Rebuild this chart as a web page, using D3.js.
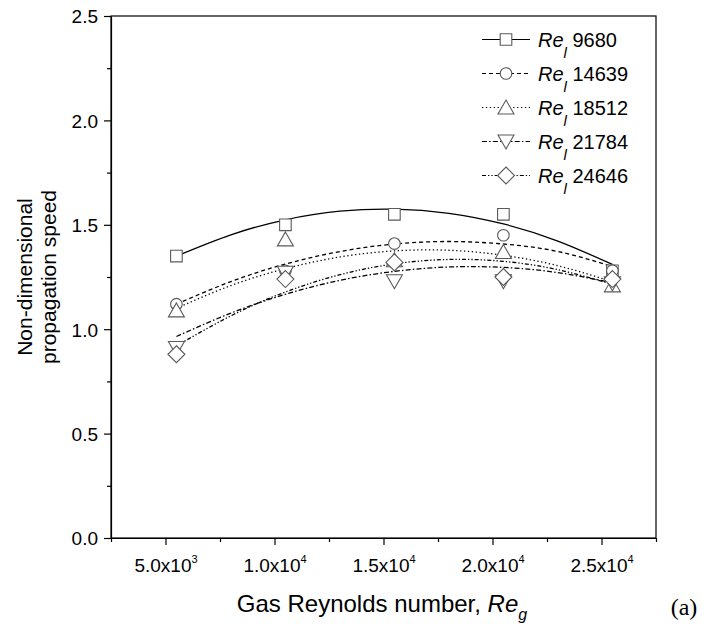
<!DOCTYPE html>
<html lang="en">
<head>
  <meta charset="UTF-8" />
  <title>Propagation speed vs gas Reynolds number</title>
  <style>
    body { margin: 0; background: #fff; }
    svg { display: block; font-family: 'Liberation Sans', Arial, sans-serif; }
    .axis path, .axis line { stroke: #000; stroke-width: 1.2px; }
    .axis text { fill: #000; }
    .fit { fill: none; stroke: #000; stroke-width: 1.3px; }
    .marker { fill: #fff; stroke: #5a5a5a; stroke-width: 1.1px; }
  </style>
</head>
<body>
  <svg width="717" height="626"></svg>

  <script src="https://d3js.org/d3.v7.min.js"></script>
  <script>
    // --- data
    const gasRe = [5500, 10500, 15500, 20500, 25500];
    const liquidRe = ["9680", "14639", "18512", "21784", "24646"];

    const speed9680  = [1.35, 1.50, 1.55, 1.55, 1.28];
    const speed14639 = [1.12, 1.28, 1.41, 1.45, 1.28];
    const speed18512 = [1.09, 1.43, 1.33, 1.37, 1.21];
    const speed21784 = [0.91, 1.27, 1.23, 1.23, 1.22];
    const speed24646 = [0.88, 1.24, 1.32, 1.25, 1.24];

    // fitted curves
    const fitRe = [5500, 8000, 10500, 13000, 15500, 18000, 20500, 23000, 25500];
    const fit9680  = [1.35, 1.452, 1.524, 1.565, 1.575, 1.555, 1.504, 1.422, 1.31];
    const fit14639 = [1.12, 1.228, 1.312, 1.372, 1.408, 1.42, 1.408, 1.372, 1.30];
    const fit18512 = [1.10, 1.209, 1.29, 1.346, 1.375, 1.378, 1.354, 1.304, 1.227];
    const fit21784 = [0.965, 1.077, 1.167, 1.234, 1.277, 1.298, 1.296, 1.271, 1.222];
    const fit24646 = [0.92, 1.064, 1.178, 1.261, 1.313, 1.334, 1.325, 1.285, 1.215];

    const xTicks = [5000, 10000, 15000, 20000, 25000];
    const yTicks = [0, 0.5, 1.0, 1.5, 2.0, 2.5];

    const series = [
      { name: liquidRe[0], values: speed9680,  fit: fit9680,  dash: null,              shape: "square" },
      { name: liquidRe[1], values: speed14639, fit: fit14639, dash: "4,3",             shape: "circle" },
      { name: liquidRe[2], values: speed18512, fit: fit18512, dash: "1.3,2.6",         shape: "up" },
      { name: liquidRe[3], values: speed21784, fit: fit21784, dash: "5,2.2,1.5,2.2",   shape: "down" },
      { name: liquidRe[4], values: speed24646, fit: fit24646, dash: "4,2,1.3,2,1.3,2", shape: "diamond" }
    ];

    // --- set up
    const svg = d3.select("svg");
    const pLeft = 111, pRight = 656, pTop = 16, pBottom = 538;

    const x = d3.scaleLinear().domain([2500, 27500]).range([pLeft, pRight]);
    const y = d3.scaleLinear().domain([0, 2.5]).range([pBottom, pTop]);

    function shapePath(shape, cx, cy) {
      const s = 5.8;
      if (shape === "square") return `M${cx-s},${cy-s}h${2*s}v${2*s}h${-2*s}Z`;
      if (shape === "circle") return `M${cx-s},${cy}a${s},${s} 0 1,0 ${2*s},0a${s},${s} 0 1,0 ${-2*s},0Z`;
      if (shape === "up") return `M${cx},${cy-7.5}L${cx+8},${cy+6.5}L${cx-8},${cy+6.5}Z`;
      if (shape === "down") return `M${cx},${cy+7.5}L${cx+8},${cy-6.5}L${cx-8},${cy-6.5}Z`;
      return `M${cx},${cy-8.5}L${cx+8.5},${cy}L${cx},${cy+8.5}L${cx-8.5},${cy}Z`;
    }

    // frame
    svg.append("rect")
      .attr("x", pLeft).attr("y", pTop)
      .attr("width", pRight - pLeft).attr("height", pBottom - pTop)
      .attr("fill", "none").attr("stroke", "#000").attr("stroke-width", 1.2);

    // minor ticks
    const xMinor = d3.range(2500, 27501, 5000);
    const yMinor = d3.range(0.25, 2.5, 0.5);
    svg.append("g").attr("class", "axis")
      .attr("transform", `translate(0,${pBottom})`)
      .call(d3.axisBottom(x).tickValues(xMinor).tickSize(4).tickFormat(""))
      .call(g => g.select(".domain").remove());
    svg.append("g").attr("class", "axis")
      .attr("transform", `translate(${pLeft},0)`)
      .call(d3.axisLeft(y).tickValues(yMinor).tickSize(4).tickFormat(""))
      .call(g => g.select(".domain").remove());

    // major ticks + labels
    const xAxisG = svg.append("g").attr("class", "axis")
      .attr("transform", `translate(0,${pBottom})`)
      .call(d3.axisBottom(x).tickValues(xTicks).tickSize(7).tickSizeOuter(0).tickFormat(""));
    xAxisG.selectAll(".tick").append("text")
      .attr("y", 34)
      .attr("text-anchor", "middle")
      .attr("font-family", "'Liberation Sans', Arial, sans-serif")
      .attr("font-size", 19)
      .each(function(d) {
        const e = Math.floor(Math.log10(d));
        const m = (d / Math.pow(10, e)).toFixed(1);
        const t = d3.select(this);
        t.append("tspan").text(`${m}x10`);
        t.append("tspan").attr("dy", -9).attr("font-size", 11).text(e);
      });

    svg.append("g").attr("class", "axis")
      .attr("transform", `translate(${pLeft},0)`)
      .call(d3.axisLeft(y).tickValues(yTicks).tickSize(7).tickSizeOuter(0).tickFormat(d3.format(".1f")))
      .call(g => g.selectAll("text")
        .attr("x", -13).attr("dy", "0.36em")
        .attr("font-family", "'Liberation Sans', Arial, sans-serif")
        .attr("font-size", 19));

    // axis titles
    const xTitle = svg.append("text")
      .attr("x", 382).attr("y", 612)
      .attr("text-anchor", "middle").attr("font-size", 24);
    xTitle.append("tspan").text("Gas Reynolds number, ");
    xTitle.append("tspan").attr("font-style", "italic").text("Re");
    xTitle.append("tspan").attr("font-style", "italic").attr("font-size", 16).attr("dy", 8).text("g");

    svg.append("text")
      .attr("transform", `translate(32,${(pTop + pBottom) / 2}) rotate(-90)`)
      .attr("text-anchor", "middle").attr("font-size", 21)
      .selectAll("tspan").data(["Non-dimensional", "propagation speed"]).join("tspan")
        .attr("x", 0).attr("dy", (d, i) => i ? 24 : 0).text(d => d);

    svg.append("text")
      .attr("x", 684).attr("y", 615)
      .attr("text-anchor", "middle")
      .attr("font-family", "'Liberation Serif', 'Times New Roman', serif")
      .attr("font-size", 24).text("(a)");

    // fitted curves
    const fitLine = d3.line()
      .x((d, i) => x(fitRe[i]))
      .y(d => y(d))
      .curve(d3.curveNatural);

    svg.selectAll(".fit").data(series).join("path")
      .attr("class", "fit")
      .attr("stroke-dasharray", d => d.dash)
      .attr("d", d => fitLine(d.fit));

    // markers
    series.forEach(s => {
      svg.append("g").selectAll("path").data(s.values).join("path")
        .attr("class", "marker")
        .attr("fill", "none")
        .attr("d", (v, i) => shapePath(s.shape, x(gasRe[i]), y(v)));
    });

    // legend
    const legend = svg.append("g").attr("transform", "translate(482,39.5)");
    const rows = legend.selectAll("g").data(series).join("g")
      .attr("transform", (d, i) => `translate(0,${i * 34})`);
    rows.append("line")
      .attr("x1", 0).attr("x2", 48)
      .attr("stroke", "#000").attr("stroke-width", 1.2)
      .attr("stroke-dasharray", d => d.dash);
    rows.append("path")
      .attr("class", "marker")
      .attr("fill", "#fff")
      .attr("d", d => shapePath(d.shape, 24, 0));
    const label = rows.append("text")
      .attr("x", 56).attr("y", 7.5).attr("font-size", 20);
    label.append("tspan").attr("font-style", "italic").text("Re");
    label.append("tspan").attr("font-style", "italic").attr("font-size", 15).attr("dy", 11).text("l");
    label.append("tspan").attr("dy", -11).text(d => " " + d.name);
  </script>
</body>
</html>
